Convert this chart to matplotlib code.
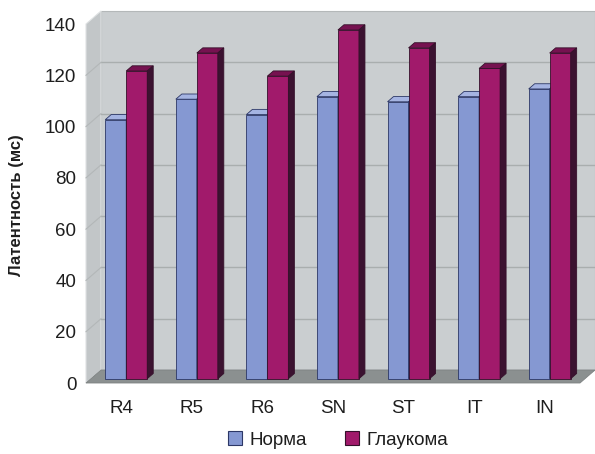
import matplotlib
matplotlib.use("Agg")
import matplotlib.pyplot as plt
from matplotlib.patches import Polygon, Patch

plt.rcParams['font.family'] = ['Liberation Sans', 'DejaVu Sans']

# Data
categories = ["R4", "R5", "R6", "SN", "ST", "IT", "IN"]
norma = [101, 109, 103, 110, 108, 110, 113]
glaucoma = [120, 127, 118, 136, 129, 121, 127]
series_names = ["Норма", "Глаукома"]
y_ticks = [0, 20, 40, 60, 80, 100, 120, 140]
y_label = "Латентность (мс)"

# Style
W, H, DPI = 595, 454, 100
wall_back = "#caced0"
wall_left = "#c2c6c8"
floor_col = "#8b9090"
grid_col = "#a9aeae"
faces = {
    "Норма": dict(front="#8598d2", top="#a5b4e2", side="#4b5a92", edge="#2c3766"),
    "Глаукома": dict(front="#a11a6b", top="#761250", side="#3b1230", edge="#35102a"),
}

fig = plt.figure(figsize=(W / DPI, H / DPI), dpi=DPI)
fig.patch.set_facecolor("white")

# front plane of the 3D box in pixels
left_px, right_px, bottom_px, top_px = 86, 580, 383, 24
ax = fig.add_axes([left_px / W, 1 - bottom_px / H,
                   (right_px - left_px) / W, (bottom_px - top_px) / H])
n = len(categories)
ymax = 140
ax.set_xlim(0, n)
ax.set_ylim(0, ymax)
ax.patch.set_visible(False)
for s in ax.spines.values():
    s.set_visible(False)

# depth vector (towards the back wall) in data units
px_x = (right_px - left_px) / n
px_y = (bottom_px - top_px) / ymax
DX = 15 / px_x
DY = 13 / px_y

def poly(pts, **kw):
    p = Polygon(pts, closed=True, transform=ax.transData, clip_on=False, **kw)
    ax.add_patch(p)
    return p

# walls and floor
poly([(DX, DY), (n + DX, DY), (n + DX, ymax + DY), (DX, ymax + DY)],
     facecolor=wall_back, edgecolor="#b4b8b9", linewidth=0.8, zorder=0)
poly([(0, 0), (DX, DY), (DX, ymax + DY), (0, ymax)],
     facecolor=wall_left, edgecolor="#dfe2e3", linewidth=0.8, zorder=0.5)
for yt in y_ticks[1:-1]:
    ax.plot([DX, n + DX], [yt + DY, yt + DY], color=grid_col, lw=1.0,
            zorder=1, clip_on=False)
    ax.plot([0, DX], [yt, yt + DY], color="#b3b7b8", lw=0.8,
            zorder=1, clip_on=False)
poly([(0, 0), (n, 0), (n + DX, DY), (DX, DY)],
     facecolor=floor_col, edgecolor="#7d8282", linewidth=0.6, zorder=1.5)

# bars with front, top and side faces
f1, f2 = 0.33, 0.73
bw = 0.2975
z = 3
for i in range(n):
    c = i + 0.5
    for name, vals, x0 in ((series_names[0], norma, c - bw),
                           (series_names[1], glaucoma, c)):
        v = vals[i]
        col = faces[name]
        x1 = x0 + bw
        ax.bar(x0 + f1 * DX, v, width=bw, bottom=f1 * DY, align="edge",
               color=col["front"], edgecolor=col["edge"], linewidth=0.6,
               zorder=z, clip_on=False)
        poly([(x0 + f1 * DX, v + f1 * DY), (x1 + f1 * DX, v + f1 * DY),
              (x1 + f2 * DX, v + f2 * DY), (x0 + f2 * DX, v + f2 * DY)],
             facecolor=col["top"], edgecolor=col["edge"], linewidth=0.6,
             zorder=z)
        poly([(x1 + f1 * DX, f1 * DY), (x1 + f2 * DX, f2 * DY),
              (x1 + f2 * DX, v + f2 * DY), (x1 + f1 * DX, v + f1 * DY)],
             facecolor=col["side"], edgecolor=col["edge"], linewidth=0.6,
             zorder=z)
        z += 0.01

# axes text
ax.set_yticks(y_ticks)
ax.set_yticklabels([str(t) for t in y_ticks], fontsize=13.5, color="#1e1e1e")
ax.set_xticks([i + 0.5 for i in range(n)])
ax.set_xticklabels(categories, fontsize=13.5, color="#1e1e1e")
ax.tick_params(axis="y", length=0, pad=7)
ax.tick_params(axis="x", length=0, pad=12)

fig.text(17 / W, 1 - 205 / H, y_label, rotation=90, ha="center", va="center",
         fontsize=12, fontweight="bold", color="#1e1e1e")

handles = [Patch(facecolor=faces[nm]["front"], edgecolor=faces[nm]["edge"],
                 linewidth=0.8) for nm in series_names]
fig.legend(handles, series_names, loc="center", ncol=2, frameon=False,
           bbox_to_anchor=(338 / W, 1 - 440 / H), fontsize=13.5,
           handlelength=0.75, handleheight=0.75, handletextpad=0.4,
           columnspacing=2.0, labelcolor="#1e1e1e")

fig.savefig("out.png", dpi=DPI, facecolor="white")
